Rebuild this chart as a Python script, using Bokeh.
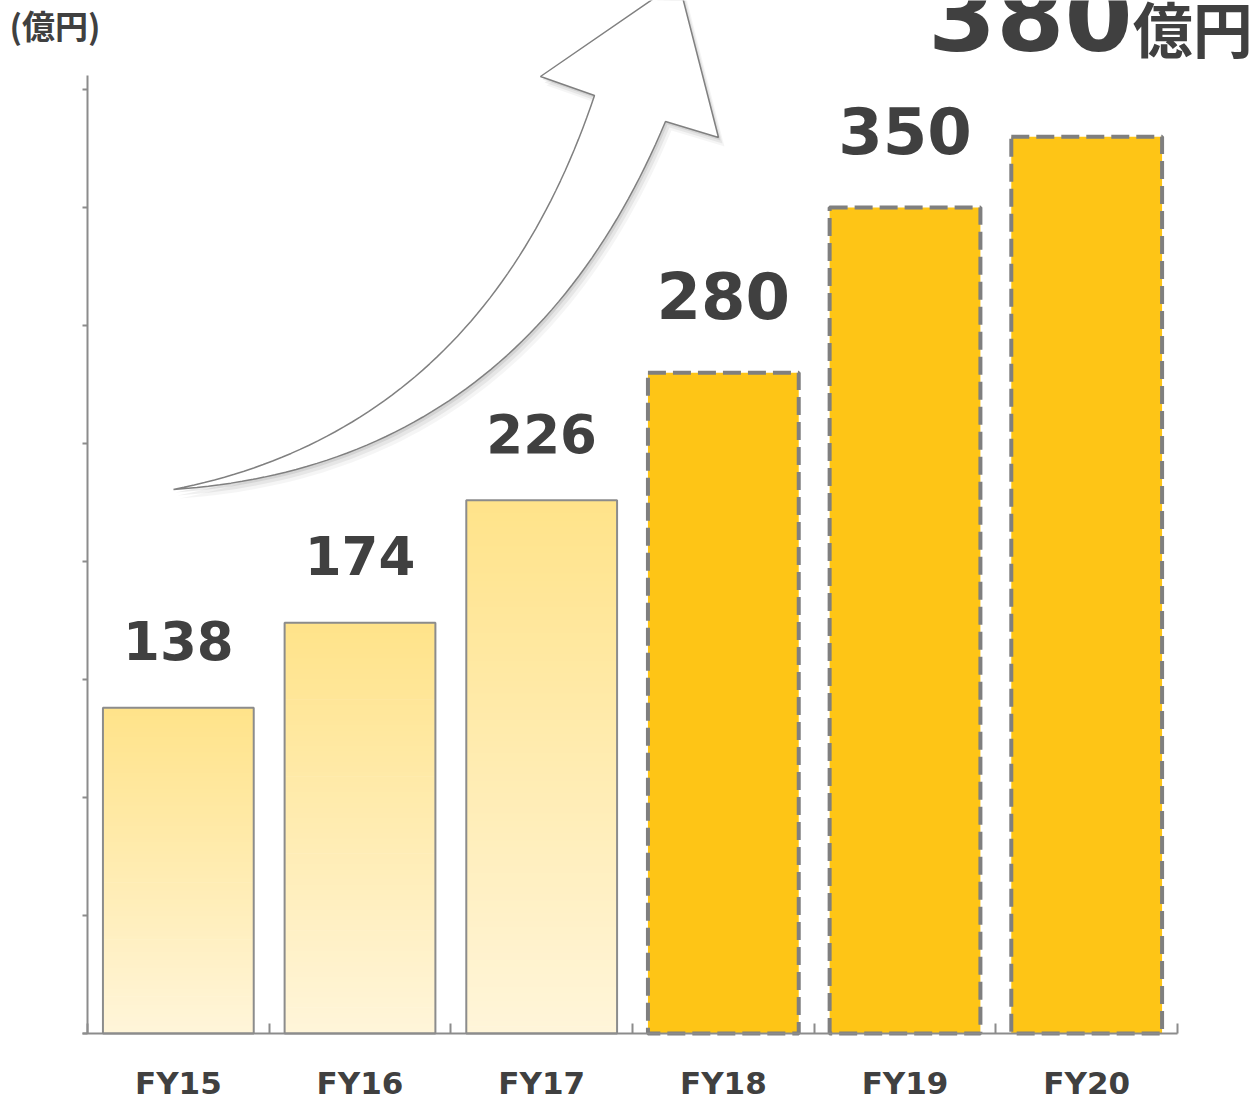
import numpy as np
from bokeh.plotting import figure
from bokeh.models import Range1d, FixedTicker, ColumnDataSource
from bokeh.core.properties import value
from bokeh.embed import file_html
from bokeh.resources import INLINE

# ---------------- data ----------------
categories = ["FY15", "FY16", "FY17", "FY18", "FY19", "FY20"]
sales = [138, 174, 226, 280, 350, 380]
is_plan = [False, False, False, True, True, True]
value_labels = ["138", "174", "226", "280", "350", "380"]
unit_text = "(億円)"
unit_suffix = "億円"
y_ticks = [0, 50, 100, 150, 200, 250, 300, 350, 400]

# ---------------- layout ----------------
W, H = 1259, 1094
OX, OY = 87, 1033        # pixel position of data origin inside the figure
PX_X = 181.67            # pixels per category
PX_Y = 2.36              # pixels per 億円
X_START, X_END = -OX / PX_X, (W - OX) / PX_X
Y_START, Y_END = -(H - OY) / PX_Y, OY / PX_Y

TEXT = "#404040"
AXIS = "#8c8c8c"
FONT = "DejaVu Sans"
CJK = "Noto Sans CJK JP"

p = figure(width=W, height=H, x_range=Range1d(X_START, X_END), y_range=Range1d(Y_START, Y_END),
           output_backend="svg", toolbar_location=None,
           min_border_left=0, min_border_right=0, min_border_top=0, min_border_bottom=0)
p.outline_line_color = None
p.xgrid.visible = False
p.ygrid.visible = False
p.background_fill_color = "white"
p.border_fill_color = "white"

# ---------------- axes ----------------
centers = [i + 0.5 for i in range(len(categories))]
xa = p.xaxis[0]
xa.fixed_location = 0
xa.ticker = FixedTicker(ticks=[], minor_ticks=list(range(len(categories) + 1)))
xa.major_tick_line_color = None
xa.minor_tick_in = 10
xa.minor_tick_out = 0
xa.minor_tick_line_color = AXIS
xa.minor_tick_line_width = 2
xa.axis_line_color = AXIS
xa.axis_line_width = 2
xa.bounds = (-0.03, len(categories))

ya = p.yaxis[0]
ya.fixed_location = 0
ya.ticker = FixedTicker(ticks=[], minor_ticks=y_ticks)
ya.major_tick_line_color = None
ya.minor_tick_in = 0
ya.minor_tick_out = 5
ya.minor_tick_line_color = AXIS
ya.minor_tick_line_width = 2
ya.axis_line_color = AXIS
ya.axis_line_width = 2
ya.bounds = (0, 406)

# ---------------- arrow (decoration) ----------------
def to_data(px, py):
    return (px - OX) / PX_X, (OY - py) / PX_Y

def qbez(p0, c, p2, n=60):
    t = np.linspace(0, 1, n)
    x = (1 - t) ** 2 * p0[0] + 2 * t * (1 - t) * c[0] + t ** 2 * p2[0]
    y = (1 - t) ** 2 * p0[1] + 2 * t * (1 - t) * c[1] + t ** 2 * p2[1]
    return list(x), list(y)

tail = (173, 489)
ux, uy = qbez(tail, (482, 428), (594, 95))
head = [(540, 76), (678, -19), (718, 137)]
lx, ly = qbez((665, 121), (521, 465), tail)
ax_px = ux + [h[0] for h in head] + lx
ay_px = uy + [h[1] for h in head] + ly

for dx, dy, a in [(6, 9, 0.04), (4, 6, 0.06), (2, 3, 0.08)]:
    sx, sy = zip(*[to_data(x + dx, y + dy) for x, y in zip(ax_px, ay_px)])
    p.patch(list(sx), list(sy), fill_color="#000000", fill_alpha=a, line_color=None)
axd, ayd = zip(*[to_data(x, y) for x, y in zip(ax_px, ay_px)])
p.patch(list(axd), list(ayd), fill_color="white", line_color="#808080", line_width=1.5)

# ---------------- bars ----------------
BAR_W = 0.83
top_c = np.array([255, 227, 137])
bot_c = np.array([255, 245, 218])
N = 80
gl, gr, gb, gt, gc = [], [], [], [], []
for c, v, plan in zip(centers, sales, is_plan):
    if plan:
        continue
    for k in range(N):
        f = (k + 0.5) / N
        col = bot_c + (top_c - bot_c) * f
        gl.append(c - BAR_W / 2); gr.append(c + BAR_W / 2)
        gb.append(v * k / N); gt.append(min(v * (k + 1) / N + 0.3, v))
        gc.append("#%02x%02x%02x" % tuple(int(round(z)) for z in col))
p.quad(left=gl, right=gr, bottom=gb, top=gt, fill_color=gc, line_color=None)

act = ColumnDataSource(dict(x=[c for c, pl in zip(centers, is_plan) if not pl],
                            top=[v for v, pl in zip(sales, is_plan) if not pl]))
p.vbar(x="x", top="top", width=BAR_W, bottom=0, source=act,
       fill_color=None, line_color=AXIS, line_width=2)

plan_src = ColumnDataSource(dict(x=[c for c, pl in zip(centers, is_plan) if pl],
                                 top=[v for v, pl in zip(sales, is_plan) if pl]))
p.vbar(x="x", top="top", width=BAR_W, bottom=0, source=plan_src,
       fill_color="#FEC516", line_color="#7f7f7f", line_width=4, line_dash="18 7")

# ---------------- value labels (y = ink centre) ----------------
act_x, act_y, act_t, pl_x, pl_y, pl_t = [], [], [], [], [], []
for c, v, t, pl in zip(centers[:-1], sales[:-1], value_labels[:-1], is_plan[:-1]):
    if pl:
        pl_x.append(c); pl_y.append(v + 77 / PX_Y); pl_t.append(t)
    else:
        act_x.append(c); act_y.append(v + 67 / PX_Y); act_t.append(t)
p.text(x=act_x, y=act_y, text=act_t, text_align="center", text_baseline="middle",
       text_font=value(FONT), text_font_style="bold", text_font_size="53px", text_color=TEXT)
p.text(x=pl_x, y=pl_y, text=pl_t, text_align="center", text_baseline="middle",
       text_font=value(FONT), text_font_style="bold", text_font_size="64px", text_color=TEXT)

# last (target) value, large with unit
last_x = centers[-1] + 46 / PX_X
p.text(x=[last_x], y=[sales[-1] + 122 / PX_Y], text=[value_labels[-1]], text_align="right",
       text_baseline="middle", text_font=value(FONT), text_font_style="bold",
       text_font_size="98px", text_color=TEXT)
p.text(x=[last_x], y=[sales[-1] + 110 / PX_Y], text=[unit_suffix], text_align="left",
       text_baseline="middle", text_font=value(CJK), text_font_style="bold",
       text_font_size="60px", text_color=TEXT)

# ---------------- category labels ----------------
p.text(x=centers, y=[-(1082 - OY) / PX_Y] * len(centers), text=categories, text_align="center",
       text_baseline="middle", text_font=value(FONT), text_font_style="bold",
       text_font_size="31px", text_color=TEXT)

# unit label (top-left)
p.text(x=[(9 - OX) / PX_X], y=[(OY - 24) / PX_Y], text=[unit_text], text_align="left",
       text_baseline="middle", text_font=value(CJK), text_font_style="bold",
       text_font_size="33px", text_color=TEXT)

open("out.html", "w").write(file_html(p, INLINE))
